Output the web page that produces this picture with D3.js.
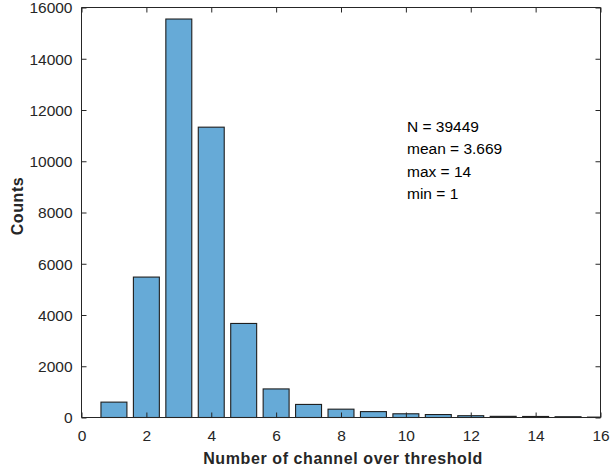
<!DOCTYPE html>
<html>
<head>
<meta charset="utf-8">
<script src="https://cdn.jsdelivr.net/npm/d3@7"></script>
<style>
  html, body { margin: 0; padding: 0; background: #fff; }
  svg { display: block; font-family: "Liberation Sans", Arial, sans-serif; }
</style>
</head>
<body>
<svg id="chart" width="611" height="474"></svg>
<script>
// Histogram of how many channels exceed the threshold per event
const bins = [0, 1, 2, 3, 4, 5, 6, 7, 8, 9, 10, 11, 12, 13, 14, 15, 16];
const counts = [0, 600, 5480, 15550, 11330, 3670, 1115, 510, 325, 230, 145, 115, 70, 45, 40, 30, 15];
const xTicks = [0, 2, 4, 6, 8, 10, 12, 14, 16];
const yTicks = [0, 2000, 4000, 6000, 8000, 10000, 12000, 14000, 16000];
const statsLines = ["N = 39449", "mean = 3.669", "max = 14", "min = 1"];

const svg = d3.select("#chart");
const m = { left: 81.5, right: 600.5, top: 7.5, bottom: 417.5 };
const axisColor = "#262626";

const x = d3.scaleLinear().domain([0, 16]).range([m.left, m.right]);
const y = d3.scaleLinear().domain([0, 16000]).range([m.bottom, m.top]);
const barWidth = 0.8;

svg.append("defs").append("clipPath").attr("id", "plot-clip")
  .append("rect")
  .attr("x", m.left).attr("y", m.top)
  .attr("width", m.right - m.left).attr("height", m.bottom - m.top + 1);

// bars
svg.append("g").attr("clip-path", "url(#plot-clip)")
  .selectAll("rect")
  .data(bins.map((b, i) => ({ b, c: counts[i] })))
  .join("rect")
  .attr("x", d => x(d.b - barWidth / 2))
  .attr("width", d => x(d.b + barWidth / 2) - x(d.b - barWidth / 2))
  .attr("y", d => y(d.c))
  .attr("height", d => y(0) - y(d.c))
  .attr("fill", "#66aad7")
  .attr("stroke", "#1e1e1e")
  .attr("stroke-width", 1.1);

// axes (ticks pointing inward, box on all sides)
const tickLen = 5;
const bottomAxis = d3.axisBottom(x).tickValues(xTicks).tickSize(-tickLen).tickPadding(12).tickFormat(d3.format("d"));
const leftAxis = d3.axisLeft(y).tickValues(yTicks).tickSize(-tickLen).tickPadding(9).tickFormat(d3.format("d"));
const topAxis = d3.axisTop(x).tickValues(xTicks).tickSize(-tickLen).tickFormat("");
const rightAxis = d3.axisRight(y).tickValues(yTicks).tickSize(-tickLen).tickFormat("");

function styleAxis(g) {
  g.selectAll("path, line").attr("stroke", axisColor).attr("stroke-width", 1);
  g.selectAll("text").attr("fill", axisColor).style("font-size", "15.5px")
    .style("font-family", "'Liberation Sans', Arial, sans-serif");
}

svg.append("g").attr("transform", `translate(0,${m.bottom})`).call(bottomAxis).call(styleAxis)
  .call(g => g.select(".domain").attr("d", `M${m.left},0H${m.right}`));
svg.append("g").attr("transform", `translate(${m.left},0)`).call(leftAxis).call(styleAxis)
  .call(g => g.select(".domain").attr("d", `M0,${m.bottom}V${m.top}`))
  .call(g => g.selectAll("text").attr("dy", "0.35em"));
svg.append("g").attr("transform", `translate(0,${m.top})`).call(topAxis).call(styleAxis)
  .call(g => g.select(".domain").attr("d", `M${m.left},0H${m.right}`));
svg.append("g").attr("transform", `translate(${m.right},0)`).call(rightAxis).call(styleAxis)
  .call(g => g.select(".domain").attr("d", `M0,${m.bottom}V${m.top}`));

// axis titles
svg.append("text")
  .attr("x", 343).attr("y", 464)
  .attr("text-anchor", "middle")
  .attr("fill", axisColor)
  .style("font-size", "16px").style("font-weight", "bold").style("letter-spacing", "0.6px")
  .text("Number of channel over threshold");

svg.append("text")
  .attr("transform", "translate(23,206) rotate(-90)")
  .attr("text-anchor", "middle")
  .attr("fill", axisColor)
  .style("font-size", "16px").style("font-weight", "bold").style("letter-spacing", "0.6px")
  .text("Counts");

// summary statistics
svg.append("g").selectAll("text")
  .data(statsLines)
  .join("text")
  .attr("x", 407)
  .attr("y", (d, i) => 131.5 + i * 22.6)
  .attr("fill", "#000")
  .style("font-size", "15.5px")
  .text(d => d);
</script>
</body>
</html>
